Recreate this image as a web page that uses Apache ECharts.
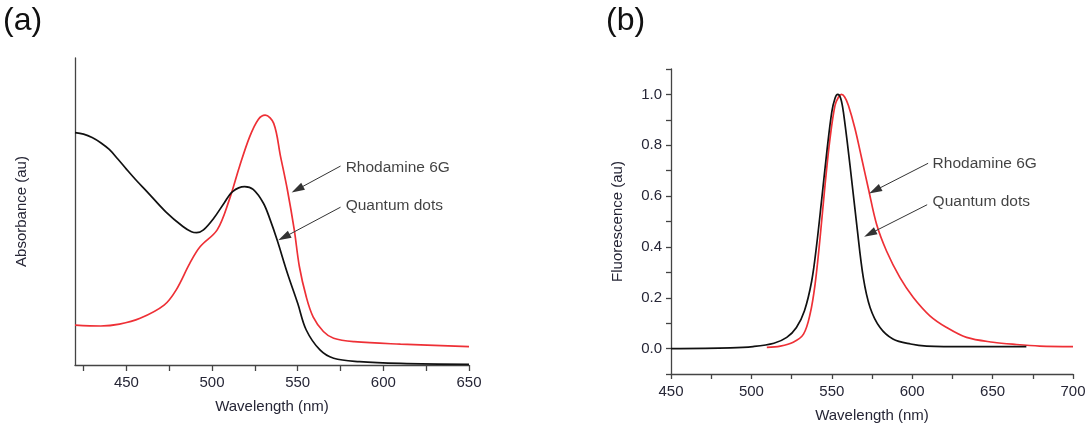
<!DOCTYPE html>
<html>
<head>
<meta charset="utf-8">
<script src="https://cdn.jsdelivr.net/npm/echarts@6/dist/echarts.min.js"></script>
<style>
  html, body { margin: 0; padding: 0; background: #fff; }
  #chart { width: 1090px; height: 428px; }
</style>
</head>
<body>
<div id="chart"></div>
<script>
// (a) absorbance, arbitrary units (0 = x axis, 1 = top of y axis)
const absQdX = [420, 425, 430, 435, 440, 445, 450, 456, 462, 473, 483, 488, 491, 495, 501, 507, 512, 519, 524, 530, 534, 538, 544, 550, 555, 563, 571, 586, 610, 650];
const absQdY = [0.757, 0.752, 0.741, 0.724, 0.702, 0.671, 0.638, 0.600, 0.565, 0.499, 0.451, 0.434, 0.431, 0.440, 0.478, 0.527, 0.565, 0.581, 0.572, 0.527, 0.472, 0.407, 0.299, 0.201, 0.114, 0.049, 0.022, 0.011, 0.005, 0.002];
const absR6gX = [420, 435, 446, 458, 472, 479, 487, 493, 503, 510, 516, 522, 527, 531, 536, 540, 544, 548, 551, 555, 559, 565, 571, 583, 610, 650];
const absR6gY = [0.130, 0.127, 0.133, 0.152, 0.195, 0.244, 0.331, 0.385, 0.440, 0.537, 0.646, 0.744, 0.800, 0.814, 0.787, 0.679, 0.570, 0.440, 0.320, 0.222, 0.157, 0.109, 0.087, 0.076, 0.068, 0.060];

// (b) normalised fluorescence
const flQdX = [450, 487, 501, 514, 522, 528, 533, 537.5, 540.6, 543.8, 546.9, 550, 552, 553.7, 555.5, 557.2, 561.3, 565.5, 569.6, 573.8, 580, 588, 599, 609, 634, 671];
const flQdY = [0.000, 0.003, 0.008, 0.021, 0.044, 0.083, 0.149, 0.266, 0.409, 0.592, 0.774, 0.931, 0.985, 1.000, 0.985, 0.931, 0.722, 0.488, 0.279, 0.162, 0.083, 0.038, 0.018, 0.010, 0.008, 0.008];
const flR6gX = [509.6, 518, 526, 532.4, 536.5, 539.6, 542.7, 545.8, 548.9, 552, 554.2, 556, 558, 560.3, 564.4, 568.6, 572.7, 577.9, 584.1, 592.4, 600.7, 611, 621.4, 633.8, 650.3, 664.8, 679.3, 700];
const flR6gY = [0.005, 0.010, 0.025, 0.057, 0.136, 0.253, 0.435, 0.644, 0.827, 0.957, 0.990, 1.000, 0.990, 0.957, 0.866, 0.748, 0.631, 0.488, 0.383, 0.279, 0.201, 0.129, 0.083, 0.044, 0.025, 0.016, 0.010, 0.008];

const absXTicks = [425, 450, 475, 500, 525, 550, 575, 600, 625, 650];
const absXLabels = [450, 500, 550, 600, 650];
const flXTicks = [450, 475, 500, 525, 550, 575, 600, 625, 650, 675, 700];
const flXLabels = [450, 500, 550, 600, 650, 700];
const flYTicks = [-0.1, 0, 0.1, 0.2, 0.3, 0.4, 0.5, 0.6, 0.7, 0.8, 0.9, 1.0, 1.1];
const flYLabels = [0, 0.2, 0.4, 0.6, 0.8, 1.0];

// annotation labels and arrows, in data coordinates
const noteNames = ['Rhodamine 6G', 'Quantum dots'];
const absNoteAt = [[578, 0.641], [578, 0.518]];
const absArrowFrom = [[575, 0.648], [575, 0.514]];
const absArrowTo = [[549.8, 0.572], [542, 0.416]];
const flNoteAt = [[612.7, 0.726], [612.7, 0.579]];
const flArrowFrom = [[609.9, 0.729], [609.3, 0.566]];
const flArrowTo = [[576.8, 0.622], [573.7, 0.452]];

const zip = (xs, ys) => xs.map((x, i) => [x, ys[i]]);

const textColor = '#262636';
const axisColor = '#444';
const font = 'Liberation Sans, Arial, sans-serif';

const axisCommon = {
  axisLine: { show: true, onZero: false, lineStyle: { color: axisColor, width: 1.3 } },
  splitLine: { show: false },
  nameTextStyle: { color: textColor, fontSize: 15, fontFamily: font },
};

const curve = (xAxisIndex, data, color) => ({
  type: 'line',
  xAxisIndex: xAxisIndex,
  yAxisIndex: xAxisIndex,
  data: data,
  showSymbol: false,
  smooth: 0.35,
  lineStyle: { color: color, width: 1.7 },
  itemStyle: { color: color },
  silent: true,
});

const arrows = (xAxisIndex, from, to) => ({
  type: 'line',
  xAxisIndex: xAxisIndex,
  yAxisIndex: xAxisIndex,
  data: [],
  silent: true,
  markLine: {
    silent: true,
    symbol: ['none', 'triangle'],
    symbolSize: [8, 13],
    label: { show: false },
    itemStyle: { color: '#222' },
    lineStyle: { color: '#333', width: 1, type: 'solid' },
    emphasis: { disabled: true },
    data: from.map((f, i) => [{ coord: f }, { coord: to[i] }]),
  },
});

const notes = (xAxisIndex, at) => ({
  type: 'scatter',
  xAxisIndex: xAxisIndex,
  yAxisIndex: xAxisIndex,
  symbolSize: 0,
  silent: true,
  label: {
    show: true,
    position: 'right',
    distance: 0,
    formatter: '{b}',
    color: '#111',
    fontSize: 15.5,
    fontFamily: font,
  },
  data: at.map((p, i) => ({ name: noteNames[i], value: p })),
});

const chart = echarts.init(document.getElementById('chart'));

const option = {
  animation: false,
  backgroundColor: '#fff',
  title: [
    { text: '(a)', left: 3, top: 5, padding: 0, textStyle: { fontSize: 32, fontWeight: 'normal', color: '#111', fontFamily: font } },
    { text: '(b)', left: 606, top: 5, padding: 0, textStyle: { fontSize: 32, fontWeight: 'normal', color: '#111', fontFamily: font } },
  ],
  grid: [
    { left: 75, top: 58, width: 394, height: 307 },
    { left: 671, top: 69, width: 402, height: 308 },
  ],
  xAxis: [
    {
      ...axisCommon,
      type: 'value', gridIndex: 0, min: 420, max: 650,
      name: 'Wavelength (nm)', nameLocation: 'middle', nameGap: 34,
      axisTick: { show: true, length: 6, customValues: absXTicks, lineStyle: { color: axisColor, width: 1.3 } },
      axisLabel: { customValues: absXLabels, color: textColor, fontSize: 15, fontFamily: font, margin: 10 },
    },
    {
      ...axisCommon,
      type: 'value', gridIndex: 1, min: 450, max: 700,
      name: 'Wavelength (nm)', nameLocation: 'middle', nameGap: 34,
      axisTick: { show: true, length: 5, customValues: flXTicks, lineStyle: { color: axisColor, width: 1.3 } },
      axisLabel: { customValues: flXLabels, color: textColor, fontSize: 15, fontFamily: font, margin: 10 },
    },
  ],
  yAxis: [
    {
      ...axisCommon,
      type: 'value', gridIndex: 0, min: 0, max: 1,
      name: 'Absorbance (au)', nameLocation: 'middle', nameGap: 46,
      axisTick: { show: false },
      axisLabel: { show: false },
    },
    {
      ...axisCommon,
      type: 'value', gridIndex: 1, min: -0.1, max: 1.1,
      name: 'Fluorescence (au)', nameLocation: 'middle', nameGap: 46,
      axisTick: { show: true, length: 5, customValues: flYTicks, lineStyle: { color: axisColor, width: 1.3 } },
      axisLabel: {
        customValues: flYLabels, color: textColor, fontSize: 15, fontFamily: font, margin: 9,
        formatter: (v) => v.toFixed(1),
      },
    },
  ],
  series: [
    curve(0, zip(absR6gX, absR6gY), '#ee3036'),
    curve(0, zip(absQdX, absQdY), '#111'),
    curve(1, zip(flR6gX, flR6gY), '#ee3036'),
    curve(1, zip(flQdX, flQdY), '#111'),
    arrows(0, absArrowFrom, absArrowTo),
    arrows(1, flArrowFrom, flArrowTo),
    notes(0, absNoteAt),
    notes(1, flNoteAt),
  ],
};

chart.setOption(option);
window.addEventListener('resize', () => chart.resize());
</script>
</body>
</html>
